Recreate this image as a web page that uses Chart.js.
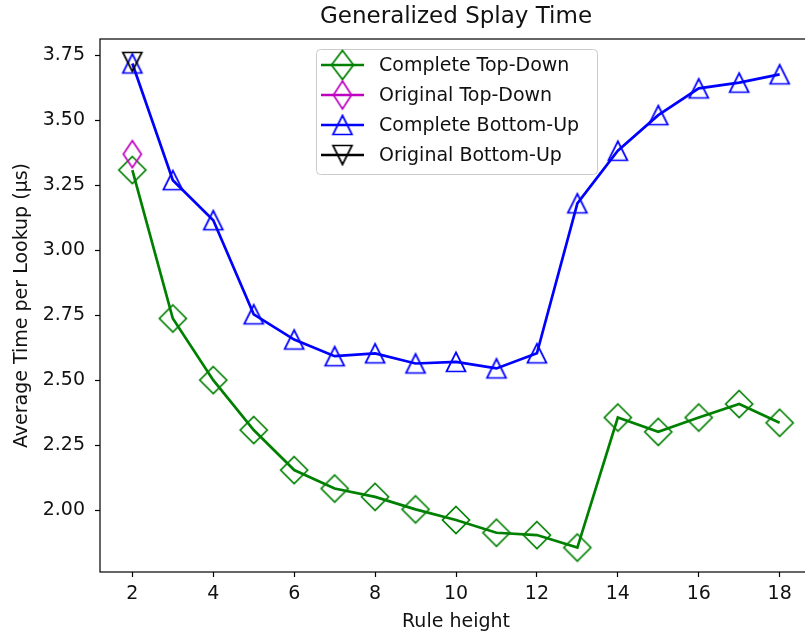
<!DOCTYPE html>
<html>
<head>
<meta charset="utf-8">
<script src="https://cdn.jsdelivr.net/npm/chart.js@4.4.0/dist/chart.umd.min.js"></script>
<style>
    html, body { margin: 0; padding: 0; overflow: hidden; background: #fff; }
    #wrap { width: 830px; height: 639px; position: relative; }
</style>
</head>
<body>
<div id="wrap"><canvas id="splayChart"></canvas></div>
<script>
// rule heights on the x axis
const ruleHeights = [2, 3, 4, 5, 6, 7, 8, 9, 10, 11, 12, 13, 14, 15, 16, 17, 18];
const originalHeights = [2];

// average time per lookup (us)
const completeTopDown = [3.308, 2.737, 2.50, 2.308, 2.154, 2.083, 2.051, 2.003, 1.962, 1.913, 1.904, 1.856, 2.356, 2.301, 2.356, 2.408, 2.336];
const originalTopDown = [3.369];
const completeBottomUp = [3.718, 3.269, 3.115, 2.753, 2.656, 2.592, 2.603, 2.564, 2.570, 2.545, 2.603, 3.180, 3.382, 3.519, 3.622, 3.644, 3.676];
const originalBottomUp = [3.724];

const seriesNames = ['Complete Top-Down', 'Original Top-Down', 'Complete Bottom-Up', 'Original Bottom-Up'];
const chartTitle = 'Generalized Splay Time';

const FONT = "'DejaVu Sans', sans-serif";

// hollow matplotlib-like markers drawn on small canvases
function makeMarker(kind, color, w, h, lw) {
    const size = Math.ceil(Math.max(w, h) + lw * 2 + 4);
    const s = size % 2 ? size + 1 : size;
    const c = document.createElement('canvas');
    c.width = s;
    c.height = s;
    const g = c.getContext('2d');
    const cx = s / 2, cy = s / 2;
    g.strokeStyle = color;
    g.lineWidth = lw;
    g.lineJoin = 'miter';
    g.beginPath();
    if (kind === 'diamond') {
        g.moveTo(cx, cy - h / 2);
        g.lineTo(cx + w / 2, cy);
        g.lineTo(cx, cy + h / 2);
        g.lineTo(cx - w / 2, cy);
    } else if (kind === 'up') {
        g.moveTo(cx, cy - h / 2);
        g.lineTo(cx + w / 2, cy + h / 2);
        g.lineTo(cx - w / 2, cy + h / 2);
    } else {
        g.moveTo(cx, cy + h / 2);
        g.lineTo(cx + w / 2, cy - h / 2);
        g.lineTo(cx - w / 2, cy - h / 2);
    }
    g.closePath();
    g.stroke();
    return c;
}

const colors = ['#008000', '#bf00bf', '#0000ff', '#000000'];

const plotMarkers = [
    makeMarker('diamond', colors[0], 27, 27, 1.7),
    makeMarker('diamond', colors[1], 18, 27, 1.7),
    makeMarker('up', colors[2], 19, 19, 1.7),
    makeMarker('down', colors[3], 19, 19, 1.7)
];
const legendMarkers = [
    makeMarker('diamond', colors[0], 22, 29, 1.7),
    makeMarker('diamond', colors[1], 18, 28, 1.7),
    makeMarker('up', colors[2], 19, 19, 1.7),
    makeMarker('down', colors[3], 19, 19, 1.7)
];

function toPoints(xs, ys) {
    return xs.map((x, i) => ({ x: x, y: ys[i] }));
}

function makeSet(i, xs, ys) {
    return {
        label: seriesNames[i],
        data: toPoints(xs, ys),
        borderColor: colors[i],
        borderWidth: 2.7,
        pointStyle: plotMarkers[i],
        pointRadius: 10,
        pointHoverRadius: 10,
        tension: 0,
        fill: false,
        order: 4 - i
    };
}

const framePlugin = {
    id: 'frame',
    afterDatasetsDraw(chart) {
        const a = chart.chartArea;
        const ctx = chart.ctx;
        ctx.save();
        ctx.strokeStyle = '#000';
        ctx.lineWidth = 1.2;
        ctx.strokeRect(a.left, a.top, a.right - a.left, a.bottom - a.top);
        // title centred over the plot area
        ctx.fillStyle = '#111';
        ctx.font = '23px ' + FONT;
        ctx.textAlign = 'center';
        ctx.textBaseline = 'middle';
        ctx.fillText(chartTitle, (a.left + a.right) / 2, 17);
        ctx.restore();
    }
};

const legendPlugin = {
    id: 'boxLegend',
    afterDraw(chart) {
        const ctx = chart.ctx;
        const x0 = 316.5, y0 = 49.5, w = 281, h = 125, r = 4;
        ctx.save();
        ctx.beginPath();
        ctx.moveTo(x0 + r, y0);
        ctx.arcTo(x0 + w, y0, x0 + w, y0 + h, r);
        ctx.arcTo(x0 + w, y0 + h, x0, y0 + h, r);
        ctx.arcTo(x0, y0 + h, x0, y0, r);
        ctx.arcTo(x0, y0, x0 + w, y0, r);
        ctx.closePath();
        ctx.fillStyle = 'rgba(255,255,255,0.8)';
        ctx.fill();
        ctx.strokeStyle = '#cccccc';
        ctx.lineWidth = 1;
        ctx.stroke();

        ctx.font = '19px ' + FONT;
        ctx.textBaseline = 'middle';
        ctx.textAlign = 'left';
        seriesNames.forEach((name, i) => {
            const y = 65 + i * 30;
            ctx.beginPath();
            ctx.moveTo(321, y);
            ctx.lineTo(364, y);
            ctx.strokeStyle = colors[i];
            ctx.lineWidth = 2.7;
            ctx.stroke();
            const m = legendMarkers[i];
            ctx.drawImage(m, 342.5 - m.width / 2, y - m.height / 2);
            ctx.fillStyle = '#111';
            ctx.fillText(name, 379, y + 1);
        });
        ctx.restore();
    }
};

const tickGrid = {
    display: true,
    drawOnChartArea: false,
    drawTicks: true,
    tickLength: 5,
    tickWidth: 1.2,
    tickColor: '#000'
};

new Chart(document.getElementById('splayChart'), {
    type: 'line',
    data: {
        datasets: [
            makeSet(0, ruleHeights, completeTopDown),
            makeSet(1, originalHeights, originalTopDown),
            makeSet(2, ruleHeights, completeBottomUp),
            makeSet(3, originalHeights, originalBottomUp)
        ]
    },
    options: {
        responsive: true,
        maintainAspectRatio: false,
        animation: false,
        layout: { padding: { left: 0, right: 18, top: 39, bottom: 0 } },
        plugins: {
            legend: { display: false },
            tooltip: { enabled: false },
            title: { display: false }
        },
        scales: {
            x: {
                type: 'linear',
                min: 1.2,
                max: 18.8,
                grid: tickGrid,
                border: { display: false },
                ticks: {
                    stepSize: 2,
                    includeBounds: false,
                    autoSkip: false,
                    maxRotation: 0,
                    padding: 6,
                    color: '#111',
                    font: { family: FONT, size: 19 },
                    callback: v => String(v)
                },
                title: {
                    display: true,
                    text: 'Rule height',
                    color: '#111',
                    font: { family: FONT, size: 19 },
                    padding: { top: 0, bottom: 6 }
                },
                afterFit: axis => { axis.height = 67; }
            },
            y: {
                type: 'linear',
                min: 1.762,
                max: 3.812,
                grid: tickGrid,
                border: { display: false },
                ticks: {
                    stepSize: 0.25,
                    includeBounds: false,
                    padding: 10,
                    color: '#111',
                    font: { family: FONT, size: 19 },
                    callback: v => v.toFixed(2)
                },
                title: {
                    display: true,
                    text: 'Average Time per Lookup (µs)',
                    color: '#111',
                    font: { family: FONT, size: 19 },
                    padding: { top: 11, bottom: 0 }
                },
                afterFit: axis => { axis.width = 100; }
            }
        }
    },
    plugins: [framePlugin, legendPlugin]
});
</script>
</body>
</html>
